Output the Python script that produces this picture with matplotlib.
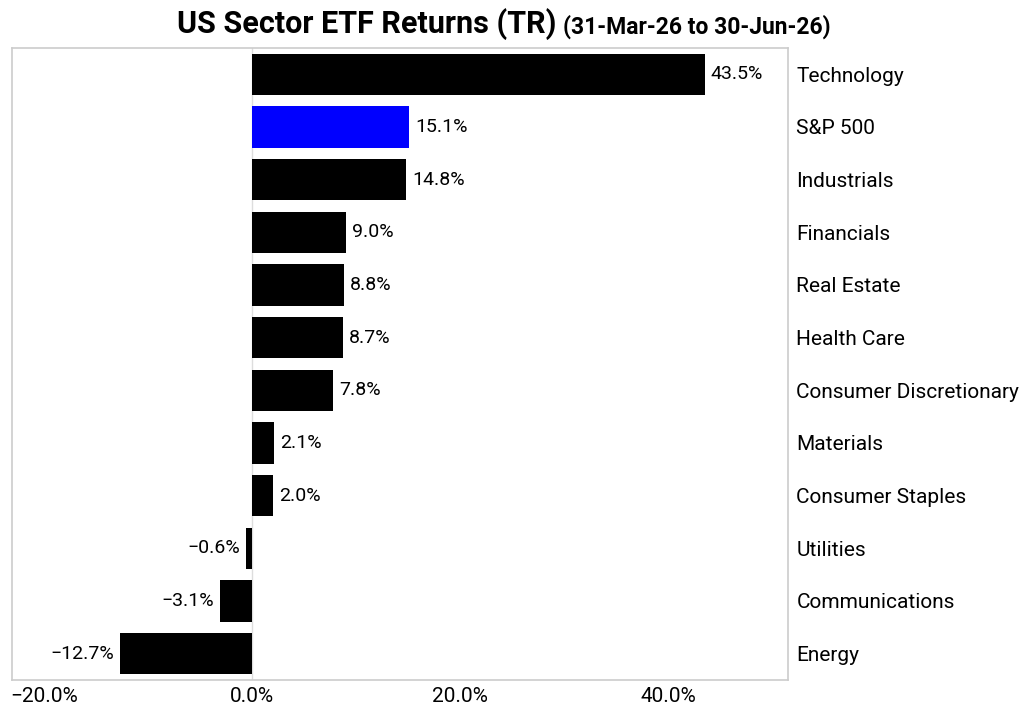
import matplotlib
matplotlib.use("Agg")
import matplotlib.pyplot as plt
from matplotlib.ticker import FuncFormatter

plt.rcParams['font.family'] = ['Roboto', 'DejaVu Sans']

# sector returns, top to bottom
sectors = ["Technology", "S&P 500", "Industrials", "Financials", "Real Estate",
           "Health Care", "Consumer Discretionary", "Materials", "Consumer Staples",
           "Utilities", "Communications", "Energy"]
returns = [43.5, 15.1, 14.8, 9.0, 8.8, 8.7, 7.8, 2.1, 2.0, -0.6, -3.1, -12.7]
highlight = "S&P 500"

fig = plt.figure(figsize=(10.21, 7.13), dpi=100)
ax = fig.add_axes([12 / 1021, 1 - 680 / 713, (788 - 12) / 1021, (680 - 48) / 713])

ypos = list(range(len(sectors)))[::-1]
colors = ["#0000ff" if s == highlight else "black" for s in sectors]
ax.barh(ypos, returns, height=0.78, color=colors, zorder=2)

ax.axvline(0, color="#dddddd", lw=1, zorder=1)

for y, v in zip(ypos, returns):
    txt = f"{v:.1f}%".replace("-", "\u2212")
    if v >= 0:
        ax.text(v + 0.55, y, txt, ha="left", va="center", fontsize=14)
    else:
        ax.text(v - 0.55, y, txt, ha="right", va="center", fontsize=14)

ax.set_xlim(-23.1, 51.5)
ax.set_ylim(-0.5, 11.5)
ax.set_xticks([-20, 0, 20, 40])
ax.xaxis.set_major_formatter(FuncFormatter(lambda x, p: f"{x:.1f}%".replace("-", "\u2212")))
ax.tick_params(axis="x", length=0, labelsize=15, pad=5)

ax.yaxis.tick_right()
ax.set_yticks(ypos)
ax.set_yticklabels(sectors, fontsize=15)
ax.tick_params(axis="y", length=0, pad=6)

for sp in ax.spines.values():
    sp.set_color("#cccccc")
    sp.set_linewidth(1.2)

fig.text(0.545, 0.966, "US Sector ETF Returns (TR)", ha="right", va="center",
         fontsize=22, fontweight="bold")
fig.text(0.551, 0.962, "(31-Mar-26 to 30-Jun-26)", ha="left", va="center",
         fontsize=16.5, fontweight="bold")

fig.savefig("out.png", dpi=100)
